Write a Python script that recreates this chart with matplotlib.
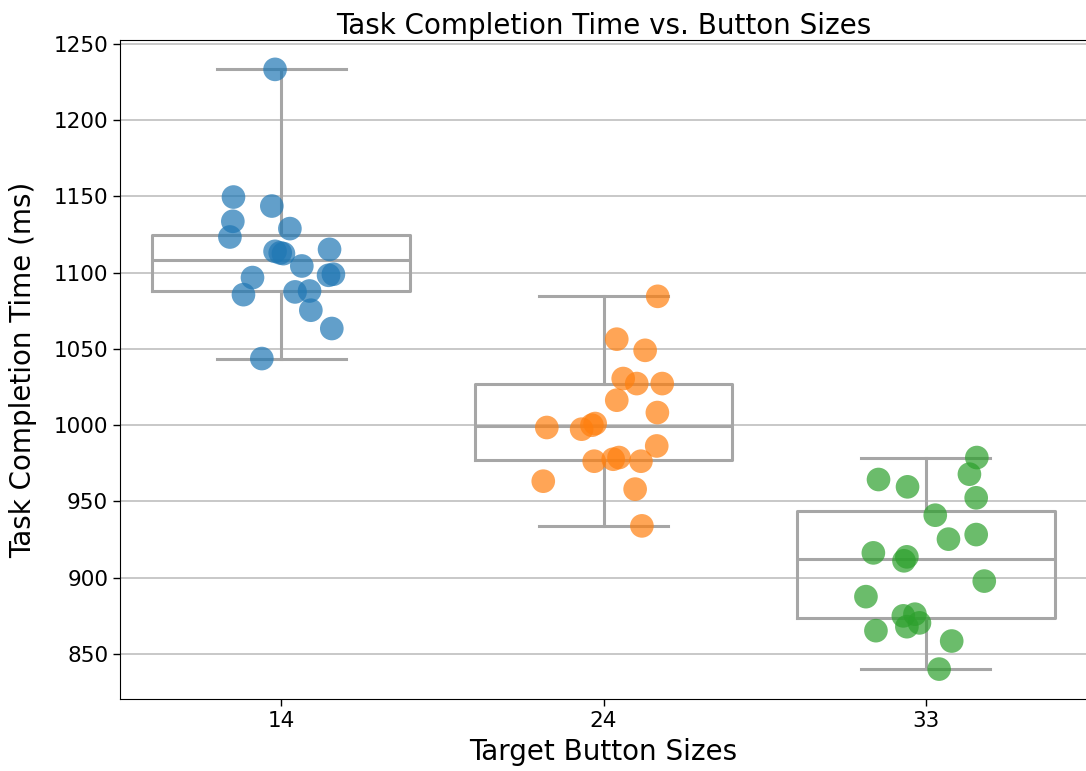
import matplotlib
matplotlib.use("Agg")
import matplotlib.pyplot as plt
import numpy as np

# Target button sizes (categories on the x axis)
button_sizes = ["14", "24", "33"]

# Task completion times (ms) per button size
times_14 = [1233.3, 1149.6, 1143.7, 1133.7, 1128.9, 1123.4, 1115.3, 1114.0, 1113.0, 1112.5,
            1104.4, 1096.8, 1098.3, 1099.0, 1085.6, 1087.4, 1088.0, 1075.4, 1063.4, 1043.7]
times_24 = [1084.5, 1056.4, 1049.1, 1030.6, 1027.3, 1027.3, 1016.4, 1008.3, 998.5, 997.4,
            1000.0, 1001.1, 986.4, 976.4, 977.7, 978.8, 976.4, 963.3, 958.1, 934.0]
times_33 = [978.8, 967.9, 964.4, 959.6, 952.4, 941.0, 925.3, 928.3, 916.3, 913.7,
            911.1, 897.8, 887.6, 875.0, 876.1, 870.4, 867.9, 865.3, 858.5, 840.1]

# Horizontal strip jitter of each point (category units)
jitter_14 = [-0.019, -0.148, -0.029, -0.150, 0.027, -0.159, 0.150, -0.019, -0.003, 0.007,
             0.064, -0.089, 0.147, 0.162, -0.117, 0.043, 0.088, 0.092, 0.157, -0.060]
jitter_24 = [0.168, 0.041, 0.129, 0.061, 0.103, 0.182, 0.041, 0.167, -0.176, -0.068,
             -0.036, -0.026, 0.165, -0.029, 0.030, 0.048, 0.116, -0.187, 0.098, 0.119]
jitter_33 = [0.158, 0.135, -0.147, -0.057, 0.156, 0.029, 0.070, 0.156, -0.163, -0.059,
             -0.068, 0.181, -0.186, -0.070, -0.034, -0.020, -0.059, -0.155, 0.080, 0.041]

groups = [times_14, times_24, times_33]
jitters = [jitter_14, jitter_24, jitter_33]
colors = ["#1f77b4", "#ff7f0e", "#2ca02c"]

fig = plt.figure(figsize=(10.86, 7.71), dpi=100)
ax = fig.add_axes([0.1105, 0.0934, 0.8905, 0.8546])

positions = np.arange(len(button_sizes))
box_color = "#a6a6a6"
line_kw = dict(color=box_color, linewidth=2.2)
ax.boxplot(groups, positions=positions, widths=0.8, whis=(0, 100),
           showfliers=False, patch_artist=False, manage_ticks=False,
           boxprops=line_kw, whiskerprops=line_kw, capprops=line_kw,
           medianprops=line_kw, capwidths=0.4, zorder=2)

for pos, vals, jit, col in zip(positions, groups, jitters, colors):
    ax.scatter(pos + np.asarray(jit), vals, s=290, color=col, alpha=0.7,
               edgecolors="none", zorder=3)

ax.set_xlim(-0.5, 2.5)
ax.set_ylim(820.5, 1252.5)
ax.set_xticks(positions)
ax.set_xticklabels(button_sizes)
ax.set_yticks(np.arange(850, 1251, 50))
ax.yaxis.grid(True, color="#c4c4c4", linewidth=1.3)
ax.set_axisbelow(True)
ax.tick_params(labelsize=15.5, length=5, width=1)

ax.set_title("Task Completion Time vs. Button Sizes", fontsize=20, pad=4.5)
ax.set_xlabel("Target Button Sizes", fontsize=20, labelpad=5)
ax.set_ylabel("Task Completion Time (ms)", fontsize=20, labelpad=11.5)

fig.savefig("out.png", dpi=100)
